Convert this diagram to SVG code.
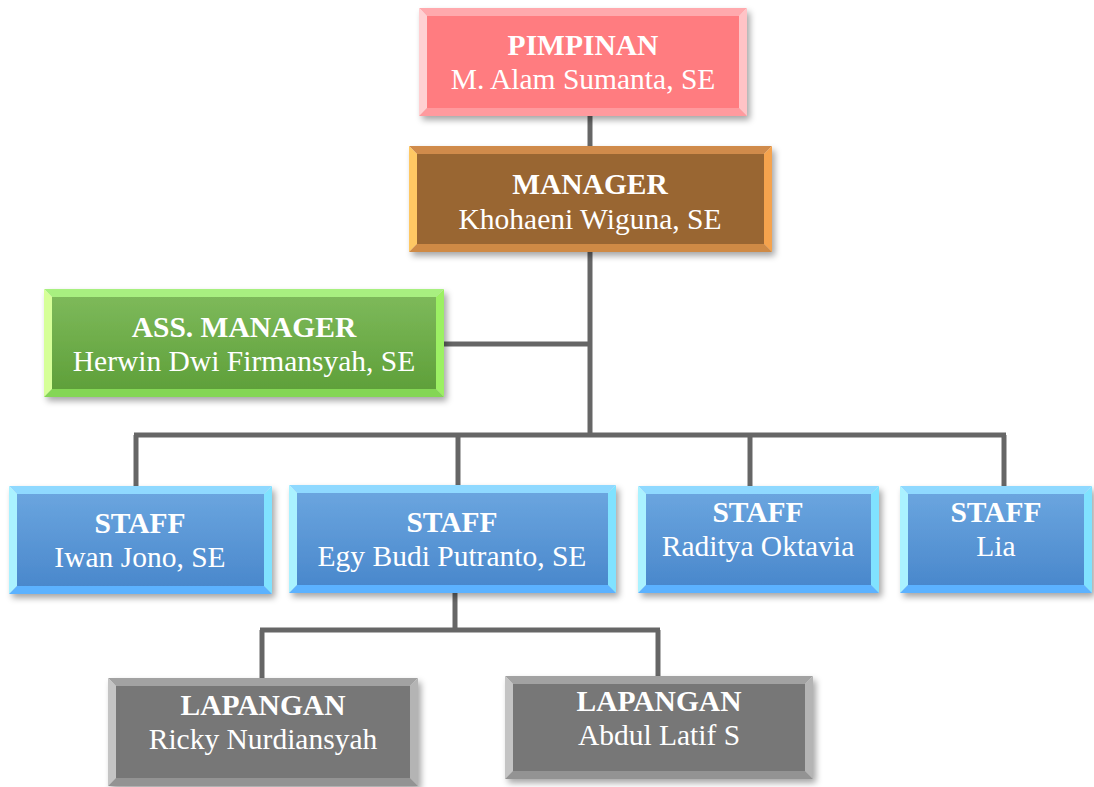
<svg xmlns="http://www.w3.org/2000/svg" width="1094" height="787" viewBox="0 0 1094 787">
<defs>
<filter id="sh" x="-10%" y="-10%" width="125%" height="130%">
<feDropShadow dx="3" dy="4" stdDeviation="3" flood-color="#000" flood-opacity="0.35"/>
</filter>
<linearGradient id="gGreen" x1="0" y1="0" x2="0" y2="1"><stop offset="0" stop-color="#7DB95A"/><stop offset="1" stop-color="#5FA03A"/></linearGradient>
<linearGradient id="gBlue" x1="0" y1="0" x2="0" y2="1"><stop offset="0" stop-color="#6AA5DF"/><stop offset="1" stop-color="#4A88CC"/></linearGradient>
</defs>
<style>
.t{font-family:"Liberation Serif","Times New Roman",serif;font-size:29.5px;fill:#fff;text-anchor:middle}
.b{font-weight:bold}
.pink .bt{fill:#FFA9AD}.pink .bl{fill:#FFD0D2}.pink .br{fill:#FFC3C6}.pink .bb{fill:#FF9A9E}.pink .f{fill:#FF7C80}
.brown .bt{fill:#D08B4B}.brown .bl{fill:#FFC864}.brown .br{fill:#F5A34E}.brown .bb{fill:#CF8A45}.brown .f{fill:#996633}
.green .bt{fill:#A8F080}.green .bl{fill:#D6FF98}.green .br{fill:#9CF064}.green .bb{fill:#84D654}.green .f{fill:url(#gGreen)}
.blue .bt{fill:#8FD9FF}.blue .bl{fill:#AAF2FF}.blue .br{fill:#80E2FF}.blue .bb{fill:#5BB2FF}.blue .f{fill:url(#gBlue)}
.gray .bt{fill:#A2A2A2}.gray .bl{fill:#C4C4C4}.gray .br{fill:#B4B4B4}.gray .bb{fill:#939393}.gray .f{fill:#777777}
.c{stroke:#666666;stroke-width:5;fill:none}
</style>
<g id="connectors">
<line class="c" x1="590" y1="116" x2="590" y2="146"/>
<line class="c" x1="590" y1="252" x2="590" y2="437"/>
<line class="c" x1="444" y1="344" x2="590" y2="344"/>
<line class="c" x1="134" y1="435" x2="1006" y2="435"/>
<line class="c" x1="136" y1="435" x2="136" y2="486"/>
<line class="c" x1="458" y1="435" x2="458" y2="485"/>
<line class="c" x1="750" y1="435" x2="750" y2="486"/>
<line class="c" x1="1004" y1="435" x2="1004" y2="486"/>
<line class="c" x1="455" y1="593" x2="455" y2="632"/>
<line class="c" x1="260" y1="630" x2="660" y2="630"/>
<line class="c" x1="262" y1="630" x2="262" y2="678"/>
<line class="c" x1="658" y1="630" x2="658" y2="676"/>
</g>
<g id="pimpinan" class="pink">
<g filter="url(#sh)">
<polygon class="bt" points="419,8 747,8 739,16 427,16"/>
<polygon class="bl" points="419,8 427,16 427,108 419,116"/>
<polygon class="br" points="747,8 747,116 739,108 739,16"/>
<polygon class="bb" points="419,116 427,108 739,108 747,116"/>
<rect class="f" x="427" y="16" width="312" height="92"/>
</g>
<text class="t b" x="583" y="55">PIMPINAN</text>
<text class="t" x="583" y="89">M. Alam Sumanta, SE</text>
</g>
<g id="manager" class="brown">
<g filter="url(#sh)">
<polygon class="bt" points="409,146 772,146 764,154 417,154"/>
<polygon class="bl" points="409,146 417,154 417,244 409,252"/>
<polygon class="br" points="772,146 772,252 764,244 764,154"/>
<polygon class="bb" points="409,252 417,244 764,244 772,252"/>
<rect class="f" x="417" y="154" width="347" height="90"/>
</g>
<text class="t b" x="590" y="194">MANAGER</text>
<text class="t" x="590" y="229">Khohaeni Wiguna, SE</text>
</g>
<g id="ass-manager" class="green">
<g filter="url(#sh)">
<polygon class="bt" points="44,289 444,289 436,297 52,297"/>
<polygon class="bl" points="44,289 52,297 52,389 44,397"/>
<polygon class="br" points="444,289 444,397 436,389 436,297"/>
<polygon class="bb" points="44,397 52,389 436,389 444,397"/>
<rect class="f" x="52" y="297" width="384" height="92"/>
</g>
<text class="t b" x="244" y="337">ASS. MANAGER</text>
<text class="t" x="244" y="371">Herwin Dwi Firmansyah, SE</text>
</g>
<g id="staff-iwan" class="blue">
<g filter="url(#sh)">
<polygon class="bt" points="9,486 272,486 264,494 17,494"/>
<polygon class="bl" points="9,486 17,494 17,586 9,594"/>
<polygon class="br" points="272,486 272,594 264,586 264,494"/>
<polygon class="bb" points="9,594 17,586 264,586 272,594"/>
<rect class="f" x="17" y="494" width="247" height="92"/>
</g>
<text class="t b" x="140" y="533">STAFF</text>
<text class="t" x="140" y="567">Iwan Jono, SE</text>
</g>
<g id="staff-egy" class="blue">
<g filter="url(#sh)">
<polygon class="bt" points="289,485 616,485 608,493 297,493"/>
<polygon class="bl" points="289,485 297,493 297,585 289,593"/>
<polygon class="br" points="616,485 616,593 608,585 608,493"/>
<polygon class="bb" points="289,593 297,585 608,585 616,593"/>
<rect class="f" x="297" y="493" width="311" height="92"/>
</g>
<text class="t b" x="452" y="532">STAFF</text>
<text class="t" x="452" y="566">Egy Budi Putranto, SE</text>
</g>
<g id="staff-raditya" class="blue">
<g filter="url(#sh)">
<polygon class="bt" points="638,486 879,486 871,494 646,494"/>
<polygon class="bl" points="638,486 646,494 646,585 638,593"/>
<polygon class="br" points="879,486 879,593 871,585 871,494"/>
<polygon class="bb" points="638,593 646,585 871,585 879,593"/>
<rect class="f" x="646" y="494" width="225" height="91"/>
</g>
<text class="t b" x="758" y="522">STAFF</text>
<text class="t" x="758" y="556">Raditya Oktavia</text>
</g>
<g id="staff-lia" class="blue">
<g filter="url(#sh)">
<polygon class="bt" points="900,486 1092,486 1084,494 908,494"/>
<polygon class="bl" points="900,486 908,494 908,585 900,593"/>
<polygon class="br" points="1092,486 1092,593 1084,585 1084,494"/>
<polygon class="bb" points="900,593 908,585 1084,585 1092,593"/>
<rect class="f" x="908" y="494" width="176" height="91"/>
</g>
<text class="t b" x="996" y="522">STAFF</text>
<text class="t" x="996" y="556">Lia</text>
</g>
<g id="lapangan-ricky" class="gray">
<g filter="url(#sh)">
<polygon class="bt" points="108,678 418,678 410,686 116,686"/>
<polygon class="bl" points="108,678 116,686 116,778 108,786"/>
<polygon class="br" points="418,678 418,786 410,778 410,686"/>
<polygon class="bb" points="108,786 116,778 410,778 418,786"/>
<rect class="f" x="116" y="686" width="294" height="92"/>
</g>
<text class="t b" x="263" y="715">LAPANGAN</text>
<text class="t" x="263" y="749">Ricky Nurdiansyah</text>
</g>
<g id="lapangan-abdul" class="gray">
<g filter="url(#sh)">
<polygon class="bt" points="505,676 813,676 805,684 513,684"/>
<polygon class="bl" points="505,676 513,684 513,771 505,779"/>
<polygon class="br" points="813,676 813,779 805,771 805,684"/>
<polygon class="bb" points="505,779 513,771 805,771 813,779"/>
<rect class="f" x="513" y="684" width="292" height="87"/>
</g>
<text class="t b" x="659" y="711">LAPANGAN</text>
<text class="t" x="659" y="745">Abdul Latif S</text>
</g>
</svg>
